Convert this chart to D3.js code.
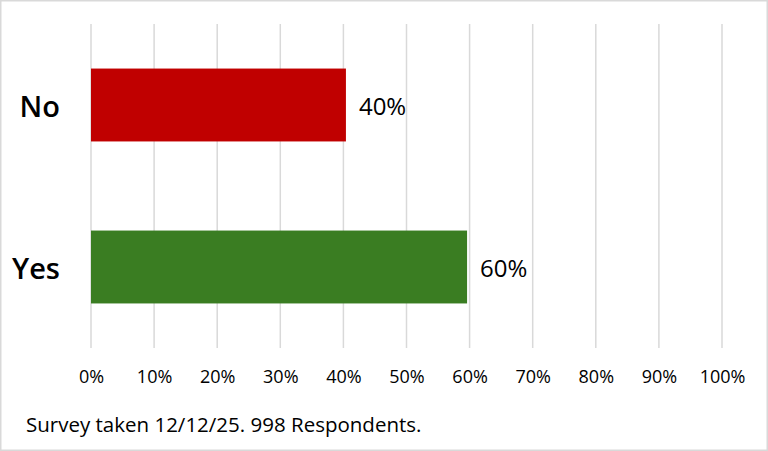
<!DOCTYPE html>
<html>
<head>
<meta charset="utf-8">
<script src="https://cdn.jsdelivr.net/npm/d3@7"></script>
<style>
  html, body { margin: 0; padding: 0; background: #fff; }
  #chart { width: 768px; height: 451px; }
</style>
</head>
<body>
<div id="chart"></div>
<script>
// survey answers, top to bottom
const categories = ['No', 'Yes'];
const shares = [40.4, 59.6];
const barColors = ['#c00000', '#3a7d22'];
const tickValues = [0, 10, 20, 30, 40, 50, 60, 70, 80, 90, 100];
const footnote = 'Survey taken 12/12/25. 998 Respondents.';

const W = 768, H = 451;
const margin = { top: 24, right: 46, bottom: 103, left: 91 };
const fontFamily = '"Open Sans", "Noto Sans", sans-serif';

const svg = d3.select('#chart')
  .append('svg')
  .attr('width', W)
  .attr('height', H);

// outer frame
svg.append('rect')
  .attr('x', 0.75).attr('y', 0.75)
  .attr('width', W - 1.5).attr('height', H - 1.5)
  .attr('fill', '#fff')
  .attr('stroke', '#d9d9d9')
  .attr('stroke-width', 1.5);

const x = d3.scaleLinear()
  .domain([0, 100])
  .range([margin.left, W - margin.right]);

const y = d3.scaleBand()
  .domain(categories)
  .range([margin.top, H - margin.bottom])
  .paddingInner(0.55)
  .paddingOuter(0.275);

// vertical grid lines
svg.append('g')
  .selectAll('line')
  .data(tickValues)
  .join('line')
    .attr('x1', d => x(d)).attr('x2', d => x(d))
    .attr('y1', margin.top).attr('y2', H - margin.bottom)
    .attr('stroke', '#d9d9d9')
    .attr('stroke-width', 1.5);

// bars
svg.append('g')
  .selectAll('rect')
  .data(categories)
  .join('rect')
    .attr('x', x(0))
    .attr('y', d => y(d))
    .attr('width', (d, i) => x(shares[i]) - x(0))
    .attr('height', y.bandwidth())
    .attr('fill', (d, i) => barColors[i]);

// value labels
svg.append('g')
  .selectAll('text')
  .data(categories)
  .join('text')
    .attr('x', (d, i) => x(shares[i]) + 13)
    .attr('y', d => y(d) + y.bandwidth() / 2)
    .attr('dy', '0.4em')
    .style('font-family', fontFamily)
    .style('font-size', '24px')
    .style('fill', '#000')
    .text((d, i) => Math.round(shares[i]) + '%');

// category axis
const yAxis = svg.append('g')
  .attr('transform', `translate(${margin.left},0)`)
  .call(d3.axisLeft(y).tickSize(0).tickPadding(31));
yAxis.select('.domain').remove();
yAxis.selectAll('text')
  .style('font-family', fontFamily)
  .style('font-size', '29px')
  .style('font-weight', '600')
  .style('fill', '#000')
  .attr('dy', '0.4em');

// percent axis
const xAxis = svg.append('g')
  .attr('transform', `translate(0,${H - margin.bottom})`)
  .call(d3.axisBottom(x).tickValues(tickValues).tickSize(0).tickPadding(22)
    .tickFormat(d => d + '%'));
xAxis.select('.domain').remove();
xAxis.selectAll('text')
  .style('font-family', fontFamily)
  .style('font-size', '18px')
  .style('fill', '#000');

// footnote
svg.append('text')
  .attr('x', 26)
  .attr('y', 432)
  .style('font-family', fontFamily)
  .style('font-size', '20.5px')
  .style('fill', '#000')
  .text(footnote);
</script>
</body>
</html>
